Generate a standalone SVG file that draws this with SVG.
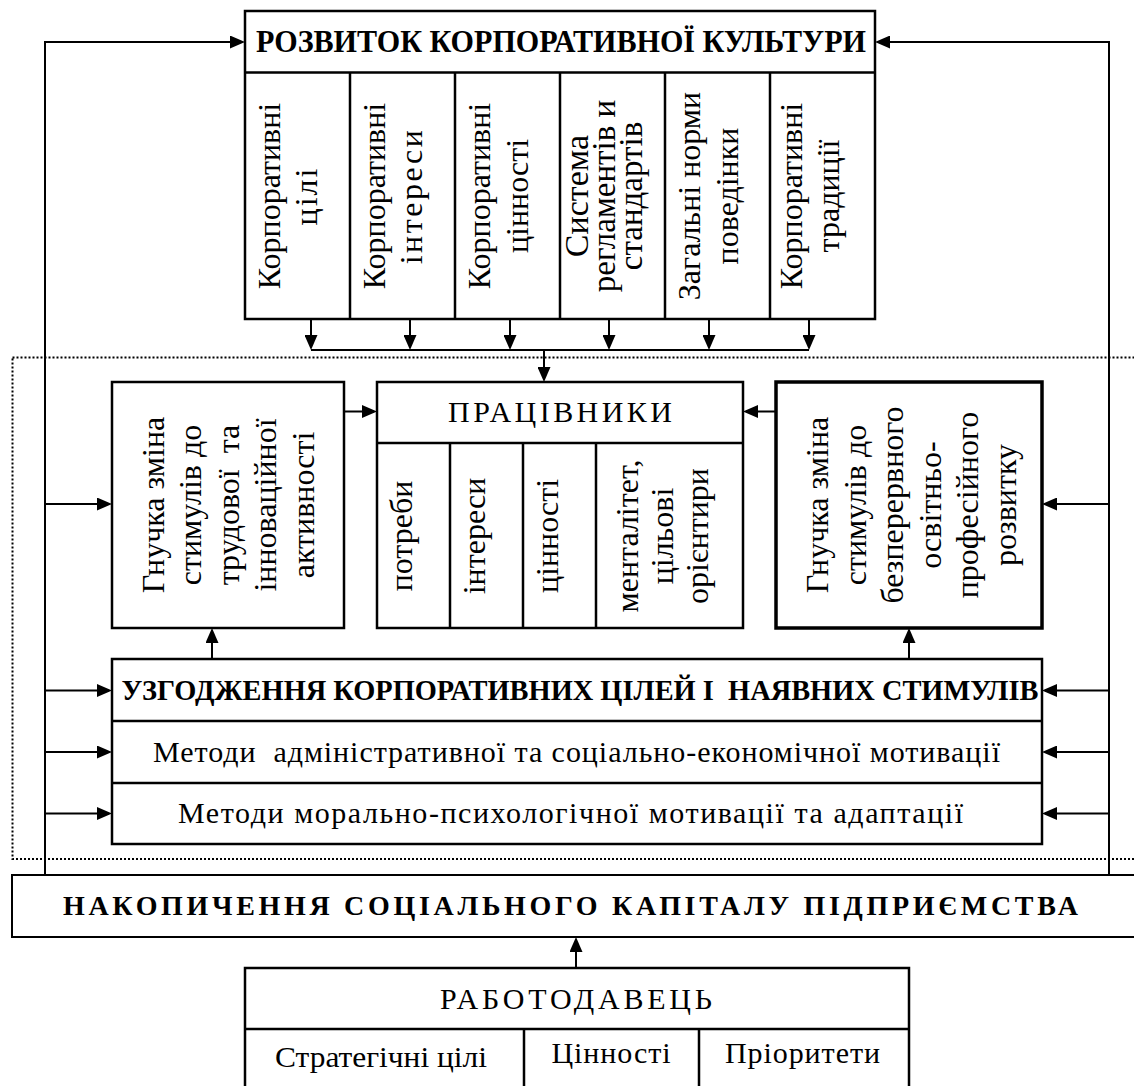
<svg xmlns="http://www.w3.org/2000/svg" width="1134" height="1086" viewBox="0 0 1134 1086" font-family="'Liberation Serif', 'Times New Roman', serif">
<style>
text{font-family:'Liberation Serif','Times New Roman',serif;fill:#000}
.box{fill:#fff;stroke:#000;stroke-width:2.5}
.ln{fill:none;stroke:#000;stroke-width:2.5}
.con{fill:none;stroke:#000;stroke-width:2}
.b{font-weight:bold}
.r{font-size:32px}
.m{font-size:30px}
.pre{white-space:pre}
</style>
<defs>
<marker id="ah" viewBox="0 0 15 13" refX="12" refY="6.5" markerWidth="15" markerHeight="13" markerUnits="userSpaceOnUse" orient="auto">
<path d="M0,0 L15,6.5 L0,13 z" fill="#000"/>
</marker>
</defs>
<rect width="1134" height="1086" fill="#fff"/>

<!-- dotted frame -->
<rect x="12.5" y="357.5" width="1140" height="501.5" fill="none" stroke="#000" stroke-width="2" stroke-dasharray="2 2"/>

<!-- connectors -->
<g id="connectors" class="con">
<path d="M45,875 V42 H242" marker-end="url(#ah)"/>
<path d="M1109,875 V42 H878" marker-end="url(#ah)"/>
<path d="M311,319 V347" marker-end="url(#ah)"/>
<path d="M410,319 V347" marker-end="url(#ah)"/>
<path d="M510,319 V347" marker-end="url(#ah)"/>
<path d="M609,319 V347" marker-end="url(#ah)"/>
<path d="M709,319 V347" marker-end="url(#ah)"/>
<path d="M809,319 V347" marker-end="url(#ah)"/>
<path d="M311,350 H809"/>
<path d="M544,350 V379" marker-end="url(#ah)"/>
<path d="M344,411.5 H374" marker-end="url(#ah)"/>
<path d="M776,411.5 H746" marker-end="url(#ah)"/>
<path d="M45,504 H109" marker-end="url(#ah)"/>
<path d="M1109,504 H1045" marker-end="url(#ah)"/>
<path d="M212,659 V631" marker-end="url(#ah)"/>
<path d="M909,659 V631" marker-end="url(#ah)"/>
<path d="M45,690.5 H109" marker-end="url(#ah)"/>
<path d="M45,752 H109" marker-end="url(#ah)"/>
<path d="M45,813.5 H109" marker-end="url(#ah)"/>
<path d="M1109,690.5 H1045" marker-end="url(#ah)"/>
<path d="M1109,752 H1045" marker-end="url(#ah)"/>
<path d="M1109,813.5 H1045" marker-end="url(#ah)"/>
<path d="M576,968 V940" marker-end="url(#ah)"/>
</g>

<!-- top: corporate culture -->
<g id="culture">
<rect class="box" x="245" y="11" width="630" height="308"/>
<path class="ln" d="M245,72.5 H875 M350,72.5 V319 M455,72.5 V319 M560,72.5 V319 M665,72.5 V319 M770,72.5 V319"/>
<text class="b" x="561" y="52" font-size="31" text-anchor="middle" textLength="610" lengthAdjust="spacingAndGlyphs">РОЗВИТОК КОРПОРАТИВНОЇ КУЛЬТУРИ</text>
<g class="r" text-anchor="middle">
<text transform="translate(280,196) rotate(-90)">Корпоративні</text>
<text transform="translate(317,196) rotate(-90)" letter-spacing="2">цілі</text>
<text transform="translate(385,196) rotate(-90)">Корпоративні</text>
<text transform="translate(422,196) rotate(-90)" letter-spacing="2.5">інтереси</text>
<text transform="translate(490,196) rotate(-90)">Корпоративні</text>
<text transform="translate(528,196) rotate(-90)">цінності</text>
<text transform="translate(588,196) rotate(-90)" font-size="34">Система</text>
<text transform="translate(615,196) rotate(-90)" font-size="33">регламентів и</text>
<text transform="translate(642,196) rotate(-90)" font-size="33">стандартів</text>
<text transform="translate(700,196) rotate(-90)">Загальні норми</text>
<text transform="translate(738,196) rotate(-90)">поведінки</text>
<text transform="translate(802,196) rotate(-90)">Корпоративні</text>
<text transform="translate(839,196) rotate(-90)">традиції</text>
</g>
</g>

<!-- left stimulus box -->
<g id="stim-left">
<rect class="box" x="112" y="382" width="232" height="246"/>
<g class="r" text-anchor="middle">
<text transform="translate(164,505) rotate(-90)">Гнучка зміна</text>
<text transform="translate(201,505) rotate(-90)">стимулів до</text>
<text class="pre" transform="translate(238.5,505) rotate(-90)">трудової  та</text>
<text transform="translate(276,505) rotate(-90)">інноваційної</text>
<text transform="translate(313.5,505) rotate(-90)">активності</text>
</g>
</g>

<!-- workers -->
<g id="workers">
<rect class="box" x="377" y="382" width="366" height="246"/>
<path class="ln" d="M377,443 H743 M450,443 V628 M523,443 V628 M596,443 V628"/>
<text x="560" y="422" font-size="30" text-anchor="middle" textLength="224">ПРАЦІВНИКИ</text>
<g class="r" text-anchor="middle">
<text transform="translate(412,536) rotate(-90)">потреби</text>
<text transform="translate(485,536) rotate(-90)">інтереси</text>
<text transform="translate(558,536) rotate(-90)">цінності</text>
<text transform="translate(638,536) rotate(-90)">менталітет,</text>
<text transform="translate(673,536) rotate(-90)">цільові</text>
<text transform="translate(708,536) rotate(-90)">орієнтири</text>
</g>
</g>

<!-- right stimulus box -->
<g id="stim-right">
<rect x="776" y="382" width="266" height="246" fill="#fff" stroke="#000" stroke-width="3.5"/>
<g class="r" text-anchor="middle">
<text transform="translate(828,505) rotate(-90)">Гнучка зміна</text>
<text transform="translate(865.5,505) rotate(-90)">стимулів до</text>
<text transform="translate(903,505) rotate(-90)">безперервного</text>
<text transform="translate(940.5,505) rotate(-90)">освітньо-</text>
<text transform="translate(978,505) rotate(-90)">професійного</text>
<text transform="translate(1015.5,505) rotate(-90)">розвитку</text>
</g>
</g>

<!-- coordination block -->
<g id="coordination">
<rect class="box" x="112" y="659" width="930" height="185"/>
<path class="ln" d="M112,721 H1042 M112,783 H1042"/>
<text class="b pre" x="580" y="700" font-size="29" text-anchor="middle" textLength="917" lengthAdjust="spacingAndGlyphs">УЗГОДЖЕННЯ КОРПОРАТИВНИХ ЦІЛЕЙ І  НАЯВНИХ СТИМУЛІВ</text>
<text class="m pre" x="576.5" y="762" text-anchor="middle" textLength="847">Методи  адміністративної та соціально-економічної мотивації</text>
<text class="m" x="570.5" y="823" text-anchor="middle" textLength="785">Методи морально-психологічної мотивації та адаптації</text>
</g>

<!-- social capital -->
<g id="capital">
<rect x="12" y="875" width="1140" height="62" fill="#fff" stroke="#000" stroke-width="2"/>
<text class="b" x="570.5" y="915" font-size="28" text-anchor="middle" textLength="1015">НАКОПИЧЕННЯ СОЦІАЛЬНОГО КАПІТАЛУ ПІДПРИЄМСТВА</text>
</g>

<!-- employer -->
<g id="employer">
<rect class="box" x="245" y="968" width="664" height="140"/>
<path class="ln" d="M245,1029 H909 M524,1029 V1100 M699,1029 V1100"/>
<text x="576" y="1009" font-size="30" text-anchor="middle" textLength="272">РАБОТОДАВЕЦЬ</text>
<text x="381" y="1067" font-size="30" text-anchor="middle" textLength="212" lengthAdjust="spacingAndGlyphs">Стратегічні цілі</text>
<text x="611" y="1063" font-size="30" text-anchor="middle" textLength="119">Цінності</text>
<text x="802.5" y="1063" font-size="30" text-anchor="middle" textLength="155">Пріоритети</text>
</g>
</svg>
